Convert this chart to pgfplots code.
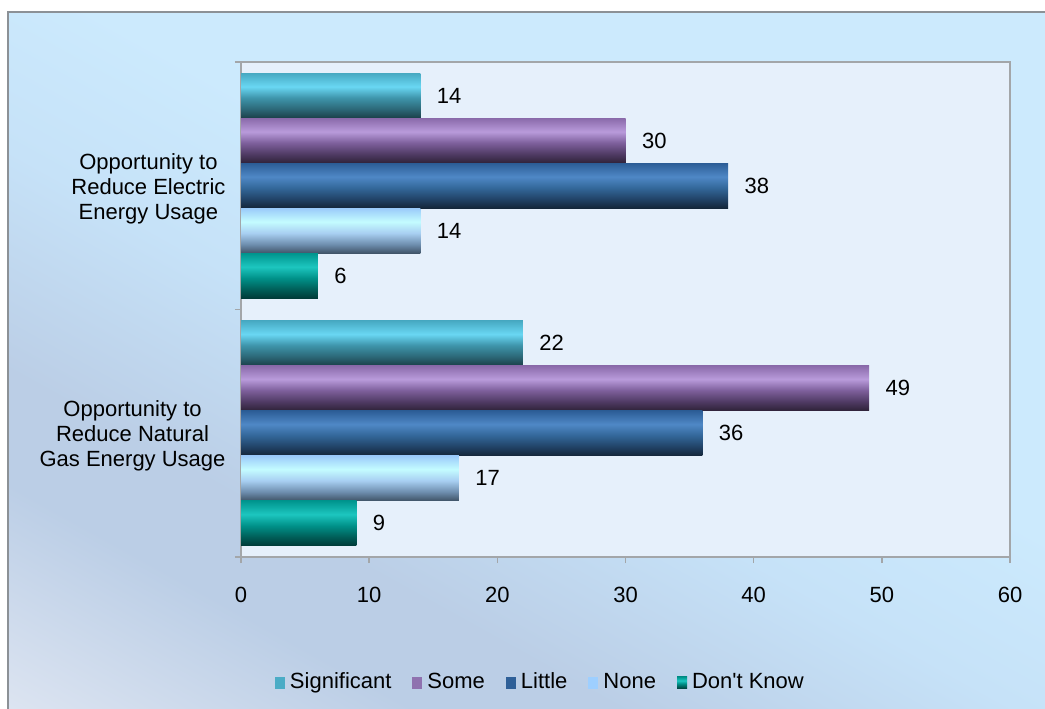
\documentclass[border=0pt]{standalone}
\usepackage{pgfplots}
\pgfplotsset{compat=1.18}
\usepackage{fontspec}
\setmainfont{Liberation Sans}

\newcommand\fs{\fontsize{22bp}{25bp}\selectfont}

% chart background and frame
\definecolor{fogA}{HTML}{DCE4F1}
\definecolor{fogB}{HTML}{BBCEE6}
\definecolor{fogC}{HTML}{C6E2F8}
\definecolor{fogD}{HTML}{CCEAFD}
\definecolor{framegray}{HTML}{8C9196}
\definecolor{plotbg}{HTML}{E6F0FB}
\definecolor{axisgray}{HTML}{A3A6A9}
\definecolor{shadowgray}{HTML}{8E9195}

\pgfdeclarehorizontalshading{bgfog}{100bp}{color(0bp)=(fogA); color(16bp)=(fogA);
  color(28bp)=(fogB); color(34bp)=(fogB); color(46bp)=(fogC); color(56bp)=(fogD); color(100bp)=(fogD)}

% series colours: top, highlight, middle, lower, bottom
\definecolor{sigA}{HTML}{47A9C2}\definecolor{sigB}{HTML}{69D7F3}\definecolor{sigC}{HTML}{3E94AA}
\definecolor{sigD}{HTML}{2C6777}\definecolor{sigE}{HTML}{1B3F48}\definecolor{sigL}{HTML}{4BACC6}
\definecolor{somA}{HTML}{8A6AAA}\definecolor{somB}{HTML}{B99BDB}\definecolor{somC}{HTML}{7D5F9B}
\definecolor{somD}{HTML}{4F3A63}\definecolor{somE}{HTML}{2E2238}\definecolor{somL}{HTML}{8F72AF}
\definecolor{litA}{HTML}{2C5D96}\definecolor{litB}{HTML}{4F88C6}\definecolor{litC}{HTML}{336799}
\definecolor{litD}{HTML}{214266}\definecolor{litE}{HTML}{142639}\definecolor{litL}{HTML}{2F6098}
\definecolor{nonA}{HTML}{9BCBFA}\definecolor{nonB}{HTML}{C4FCFF}\definecolor{nonC}{HTML}{A8CFF2}
\definecolor{nonD}{HTML}{6E8EAE}\definecolor{nonE}{HTML}{3F5366}\definecolor{nonL}{HTML}{9ECFFF}
\definecolor{dkA}{HTML}{00958E}\definecolor{dkB}{HTML}{1DC6BF}\definecolor{dkC}{HTML}{009189}
\definecolor{dkD}{HTML}{005E58}\definecolor{dkE}{HTML}{003A37}

\newcommand\barshading[2]{%
  \pgfdeclareverticalshading{#1}{100bp}{color(0bp)=(#2E); color(25bp)=(#2E);
    color(35bp)=(#2D); color(47.5bp)=(#2C); color(60bp)=(#2B); color(75bp)=(#2A); color(100bp)=(#2A)}}
\barshading{sigshade}{sig}
\barshading{somshade}{som}
\barshading{litshade}{lit}
\barshading{nonshade}{non}
\barshading{dkshade}{dk}

% one bar per \addplot so that every bar carries its own cylinder shading
\pgfplotsset{
  sig/.style={forget plot, draw=none, shade, shading=sigshade, bar shift=-0.364},
  som/.style={forget plot, draw=none, shade, shading=somshade, bar shift=-0.182},
  lit/.style={forget plot, draw=none, shade, shading=litshade, bar shift=0},
  non/.style={forget plot, draw=none, shade, shading=nonshade, bar shift=0.182},
  dk/.style={forget plot, draw=none, shade, shading=dkshade, bar shift=0.364},
}

\begin{document}
\begin{tikzpicture}
\path[use as bounding box] (0bp,0bp) rectangle (1045bp,709bp);
\fill[white] (0bp,0bp) rectangle (1045bp,709bp);
\shade[shading=bgfog, shading angle=61] (8bp,0bp) rectangle (1045bp,697bp);
\draw[framegray, line width=2.5bp] (8bp,0bp) -- (8bp,697bp) -- (1045bp,697bp);

\begin{axis}[
  at={(241bp,152bp)}, anchor=south west,
  scale only axis, width=769bp, height=495bp,
  xmin=0, xmax=60, ymin=-0.5, ymax=1.5, y dir=reverse,
  xbar, bar width=0.182,
  axis background/.style={fill=plotbg},
  axis line style={draw=axisgray, line width=1.5bp},
  xtick={0,10,...,60},
  xtick pos=bottom, ytick pos=left,
  tick align=outside, major tick length=6bp,
  tick style={draw=axisgray, line width=1.5bp},
  xticklabel style={yshift=-21bp},
  ytick={-0.5,0.5,1.5}, yticklabels={},
  extra y ticks={0,1},
  extra y tick labels={{Opportunity to\\Reduce Electric\\Energy Usage},
                       {Opportunity to\\Reduce Natural\\Gas Energy Usage}},
  extra y tick style={major tick length=0pt,
    yticklabel style={align=center, xshift=-12bp, yshift=-3bp}},
  tick label style={font=\fs, text=black},
  /pgf/number format/assume math mode=true,
  nodes near coords,
  nodes near coords style={font=\fs, text=black, anchor=west, xshift=13bp},
  legend image code/.code={\path[#1] (0bp,-6bp) rectangle (10bp,6bp);},
  legend columns=-1,
  legend style={draw=none, fill=none, font=\fs,
    at={(0.390,-0.2545)}, anchor=center,
    column sep=2bp,
    nodes={inner xsep=3bp, inner ysep=0pt, text height=16bp, text depth=5bp},
    /tikz/every even column/.append style={column sep=18bp}},
]
% Opportunity to Reduce Electric Energy Usage (y = 0)
\addplot[sig] coordinates {(14,0)};
\addplot[som] coordinates {(30,0)};
\addplot[lit] coordinates {(38,0)};
\addplot[non] coordinates {(14,0)};
\addplot[dk]  coordinates {(6,0)};
% Opportunity to Reduce Natural Gas Energy Usage (y = 1)
\addplot[sig] coordinates {(22,1)};
\addplot[som] coordinates {(49,1)};
\addplot[lit] coordinates {(36,1)};
\addplot[non] coordinates {(17,1)};
\addplot[dk]  coordinates {(9,1)};

\addlegendimage{draw=none, fill=sigL}\addlegendentry{Significant}
\addlegendimage{draw=none, fill=somL}\addlegendentry{Some}
\addlegendimage{draw=none, fill=litL}\addlegendentry{Little}
\addlegendimage{draw=none, fill=nonL}\addlegendentry{None}
\addlegendimage{draw=none, shade, shading=dkshade}\addlegendentry{Don\textquotesingle t Know}

% drop shadow along the right and bottom edges of the plot area
\draw[shadowgray, line width=2bp]
  ([xshift=1.8bp]axis description cs:1,0.99) -- ([xshift=1.8bp,yshift=-1.8bp]axis description cs:1,0)
  -- ([yshift=-1.8bp]axis description cs:0.005,0);
\end{axis}
\end{tikzpicture}
\end{document}
